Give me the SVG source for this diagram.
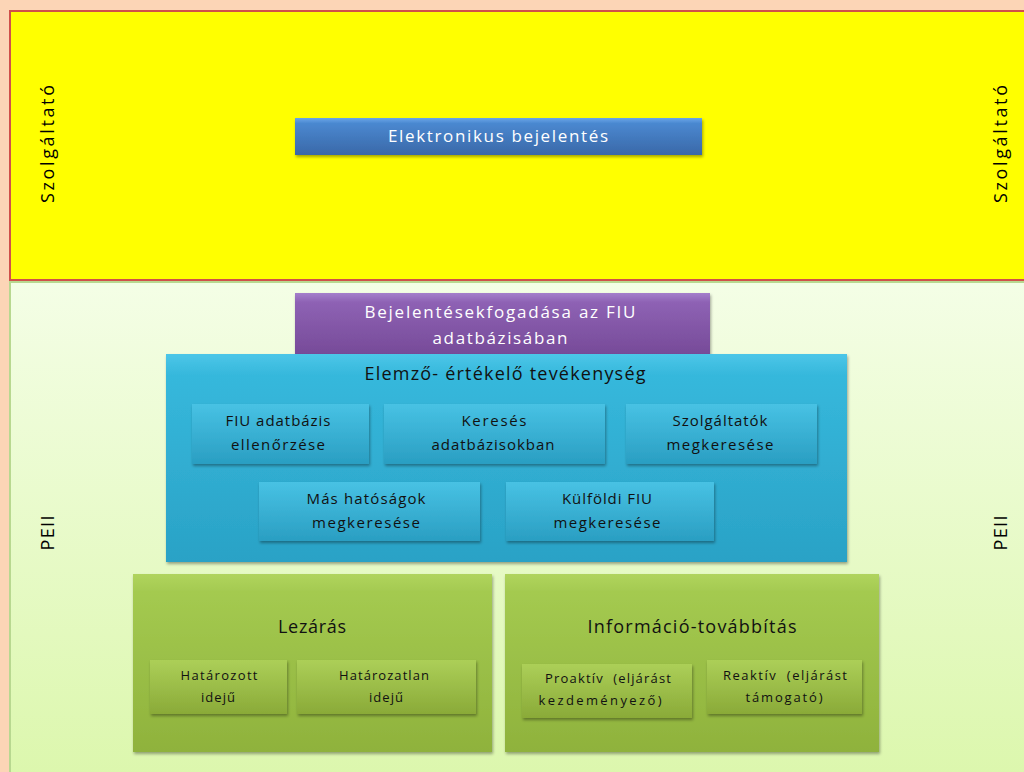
<svg xmlns="http://www.w3.org/2000/svg" width="1024" height="772" viewBox="0 0 1024 772">
<defs>
<linearGradient id="gBlue" x1="0" y1="0" x2="0" y2="1"><stop offset="0" stop-color="#6aa6e8"/><stop offset="0.15" stop-color="#4a88d0"/><stop offset="1" stop-color="#3a68a8"/></linearGradient>
<linearGradient id="gPurple" x1="0" y1="0" x2="0" y2="1"><stop offset="0" stop-color="#a57fcc"/><stop offset="0.15" stop-color="#8e62b4"/><stop offset="1" stop-color="#764a98"/></linearGradient>
<linearGradient id="gCyan" x1="0" y1="0" x2="0" y2="1"><stop offset="0" stop-color="#4cc6e8"/><stop offset="0.1" stop-color="#36b8dc"/><stop offset="1" stop-color="#2aa2c6"/></linearGradient>
<linearGradient id="gCyanIn" x1="0" y1="0" x2="0" y2="1"><stop offset="0" stop-color="#48c2e4"/><stop offset="1" stop-color="#2a9ec2"/></linearGradient>
<linearGradient id="gGreen" x1="0" y1="0" x2="0" y2="1"><stop offset="0" stop-color="#b0d45e"/><stop offset="0.1" stop-color="#a4ca50"/><stop offset="1" stop-color="#8fb23c"/></linearGradient>
<linearGradient id="gGreenIn" x1="0" y1="0" x2="0" y2="1"><stop offset="0" stop-color="#accf58"/><stop offset="1" stop-color="#8aaa38"/></linearGradient>
<linearGradient id="gLow" x1="0" y1="0" x2="0" y2="1"><stop offset="0" stop-color="#f4fee6"/><stop offset="1" stop-color="#dcf7ad"/></linearGradient>
<filter id="sh" x="-10%" y="-10%" width="120%" height="130%"><feDropShadow dx="1" dy="2" stdDeviation="1.5" flood-color="#000" flood-opacity="0.35"/></filter>
</defs>
<style>
.t{font-family:"Open Sans","Liberation Sans",sans-serif;text-anchor:middle}
.w{fill:#ffffff;font-size:17px}
.k{fill:#111111}
.side{font-family:"Open Sans","Liberation Sans",sans-serif;font-size:18px;fill:#000;text-anchor:middle}
.box{filter:url(#sh)}
</style>
<rect x="0" y="0" width="1024" height="772" fill="#fcd5b6"/>
<g id="yellow-band">
<rect x="10" y="11" width="1020" height="269" fill="#ffff00" stroke="#d0504a" stroke-width="2"/>
</g>
<g id="lower-band">
<rect x="10" y="282" width="1020" height="495" fill="url(#gLow)" stroke="#b8d890" stroke-width="2"/>
</g>
<g id="labels">
<text class="side" transform="translate(54,144) rotate(-90)" textLength="118" lengthAdjust="spacing">Szolgáltató</text>
<text class="side" transform="translate(1007,144) rotate(-90)" textLength="118" lengthAdjust="spacing">Szolgáltató</text>
<text class="side" transform="translate(54,533) rotate(-90)" textLength="35" lengthAdjust="spacing">PEII</text>
<text class="side" transform="translate(1007,533) rotate(-90)" textLength="35" lengthAdjust="spacing">PEII</text>
</g>
<g id="electronic">
<rect class="box" x="295" y="118" width="407" height="37" fill="url(#gBlue)"/>
<text class="t w" x="498" y="142" font-size="18" textLength="220" lengthAdjust="spacing">Elektronikus bejelentés</text>
</g>
<g id="reception">
<rect class="box" x="295" y="293" width="415" height="62" fill="url(#gPurple)"/>
<text class="t w" x="500" y="318" textLength="271" lengthAdjust="spacing">Bejelentésekfogadása az FIU</text>
<text class="t w" x="500" y="344" textLength="135" lengthAdjust="spacing">adatbázisában</text>
</g>
<g id="analysis">
<rect class="box" x="166" y="354" width="681" height="208" fill="url(#gCyan)"/>
<text class="t k" x="505" y="380" font-size="18" textLength="281" lengthAdjust="spacing">Elemző- értékelő tevékenység</text>
</g>
<g id="fiu-check">
<rect class="box" x="192" y="404" width="177" height="60" fill="url(#gCyanIn)"/>
<text class="t k" x="278" y="426" font-size="15" textLength="105" lengthAdjust="spacing">FIU adatbázis</text>
<text class="t k" x="278" y="450" font-size="15" textLength="94" lengthAdjust="spacing">ellenőrzése</text>
</g>
<g id="db-search">
<rect class="box" x="384" y="404" width="221" height="60" fill="url(#gCyanIn)"/>
<text class="t k" x="494" y="426" font-size="15" textLength="65" lengthAdjust="spacing">Keresés</text>
<text class="t k" x="493" y="450" font-size="15" textLength="123" lengthAdjust="spacing">adatbázisokban</text>
</g>
<g id="providers">
<rect class="box" x="626" y="404" width="191" height="60" fill="url(#gCyanIn)"/>
<text class="t k" x="720" y="426" font-size="15" textLength="95" lengthAdjust="spacing">Szolgáltatók</text>
<text class="t k" x="720" y="450" font-size="15" textLength="107" lengthAdjust="spacing">megkeresése</text>
</g>
<g id="authorities">
<rect class="box" x="259" y="482" width="221" height="59" fill="url(#gCyanIn)"/>
<text class="t k" x="366" y="504" font-size="15" textLength="119" lengthAdjust="spacing">Más hatóságok</text>
<text class="t k" x="366" y="528" font-size="15" textLength="108" lengthAdjust="spacing">megkeresése</text>
</g>
<g id="foreign-fiu">
<rect class="box" x="506" y="482" width="208" height="59" fill="url(#gCyanIn)"/>
<text class="t k" x="607" y="504" font-size="15" textLength="90" lengthAdjust="spacing">Külföldi FIU</text>
<text class="t k" x="607" y="528" font-size="15" textLength="107" lengthAdjust="spacing">megkeresése</text>
</g>
<g id="closure">
<rect class="box" x="133" y="574" width="359" height="178" fill="url(#gGreen)"/>
<text class="t k" x="312" y="633" font-size="18" textLength="68" lengthAdjust="spacing">Lezárás</text>
</g>
<g id="fixed-term">
<rect class="box" x="150" y="660" width="137" height="54" fill="url(#gGreenIn)"/>
<text class="t k" x="219" y="680" font-size="13" textLength="77" lengthAdjust="spacing">Határozott</text>
<text class="t k" x="218" y="702" font-size="13" textLength="34" lengthAdjust="spacing">idejű</text>
</g>
<g id="indefinite">
<rect class="box" x="297" y="660" width="179" height="54" fill="url(#gGreenIn)"/>
<text class="t k" x="384" y="680" font-size="13" textLength="90" lengthAdjust="spacing">Határozatlan</text>
<text class="t k" x="386" y="702" font-size="13" textLength="34" lengthAdjust="spacing">idejű</text>
</g>
<g id="info-transfer">
<rect class="box" x="505" y="574" width="374" height="178" fill="url(#gGreen)"/>
<text class="t k" x="692" y="633" font-size="18" textLength="209" lengthAdjust="spacing">Információ-továbbítás</text>
</g>
<g id="proactive">
<rect class="box" x="522" y="664" width="170" height="54" fill="url(#gGreenIn)"/>
<text class="t k" x="608" y="683" font-size="13" textLength="126" lengthAdjust="spacing" xml:space="preserve">Proaktív  (eljárást</text>
<text class="t k" x="600" y="705" font-size="13" textLength="123" lengthAdjust="spacing">kezdeményező)</text>
</g>
<g id="reactive">
<rect class="box" x="707" y="660" width="155" height="54" fill="url(#gGreenIn)"/>
<text class="t k" x="785" y="680" font-size="13" textLength="124" lengthAdjust="spacing" xml:space="preserve">Reaktív  (eljárást</text>
<text class="t k" x="784" y="702" font-size="13" textLength="77" lengthAdjust="spacing">támogató)</text>
</g>
<g id="connectors"></g>
</svg>
